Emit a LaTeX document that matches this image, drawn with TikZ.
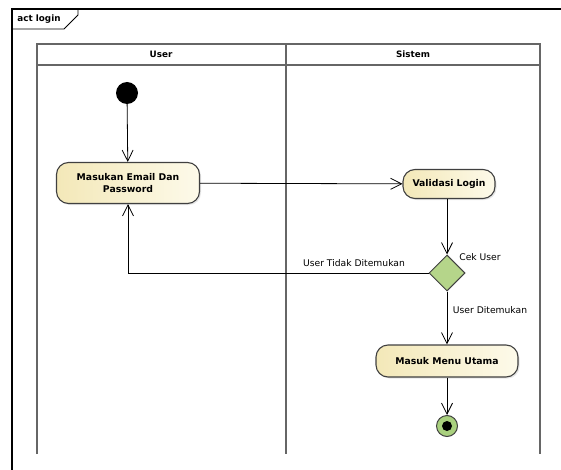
\documentclass[tikz,border=0pt]{standalone}
\usepackage{fontspec}
\setmainfont{DejaVu Sans}
\usetikzlibrary{arrows.meta}
\usetikzlibrary{shapes.geometric}
\usetikzlibrary{shadows}

\definecolor{lanegray}{HTML}{666666}
\definecolor{actleft}{HTML}{F3E8B8}
\definecolor{actright}{HTML}{FDFAEA}
\definecolor{decgreen}{HTML}{B5D58A}
\definecolor{endgreen}{HTML}{A9D07E}

\begin{document}
\begin{tikzpicture}[x=1pt, y=-1pt, > = {Straight Barb[length=11pt,width=11pt]},
  action/.style={draw=black!75, line width=1.1pt, rounded corners=12pt,
    left color=actleft, right color=actright, font=\fontsize{9.3}{11.5}\selectfont\bfseries,
    align=center, inner sep=0pt,
    drop shadow={opacity=0.2, shadow xshift=1.5pt, shadow yshift=-1.5pt}},
  lane/.style={draw=lanegray, line width=1.8pt},
  flow/.style={->, line width=0.8pt},
  head/.style={font=\fontsize{8.8}{10}\selectfont\bfseries},
  small/.style={font=\fontsize{9.2}{10}\selectfont}]

         \useasboundingbox (0,0) rectangle (561,470);

         % frame
         \draw[line width=1.1pt] (12,470) -- (12,9) -- (561,9);
         \draw[line width=0.9pt] (12,29) -- (64,29) -- (78,15) -- (78,9);
         \node(frame) at (39,19) [head] {act login};

         % swimlanes
         \draw[lane] (37,454) -- (37,44) -- (540,44) -- (540,454);
         \draw[lane] (37,65) -- (540,65);
         \draw[lane] (286,44) -- (286,454);
         \node(user) at (161,54) [head] {User};
         \node(sistem) at (413,54) [head] {Sistem};

         % nodes
         \node(start) at (127,93) [circle, fill=black, minimum size=22pt, inner sep=0] {};
         \node(input) at (128,183) [action, minimum width=143pt, minimum height=41pt] {Masukan Email Dan\\Password};
         \node(valid) at (449,184) [action, minimum width=92pt, minimum height=29pt] {Validasi Login};
         \node(cek) at (447,273) [diamond, draw=black!75, line width=1pt, fill=decgreen, minimum width=36pt, minimum height=36pt, inner sep=0] {};
         \node(menu) at (447,361) [action, minimum width=142pt, minimum height=32pt] {Masuk Menu Utama};
         \node(end) at (447,426) [circle, draw=black!75, line width=1pt, fill=endgreen, minimum size=21pt, inner sep=0] {};
         \node(endin) at (447,426) [circle, fill=black, minimum size=10pt, inner sep=0] {};
         \coordinate(turn) at (128,273);

         % flows
         \draw[flow] (start) -- (input);
         \draw[flow] (input) -- (valid);
         \draw[flow] (valid.south -| cek) -- (cek.north);
         \draw[flow] (cek.west) -- (turn) -- (input.south);
         \draw[flow] (cek.south) -- (menu.north);
         \draw[flow] (menu) -- (end);

         % labels
         \node(tidak) at (354,263) [small] {User Tidak Ditemukan};
         \node(cekuser) at (480,257) [small] {Cek User};
         \node(ada) at (490,310) [small] {User Ditemukan};

\end{tikzpicture}
\end{document}
